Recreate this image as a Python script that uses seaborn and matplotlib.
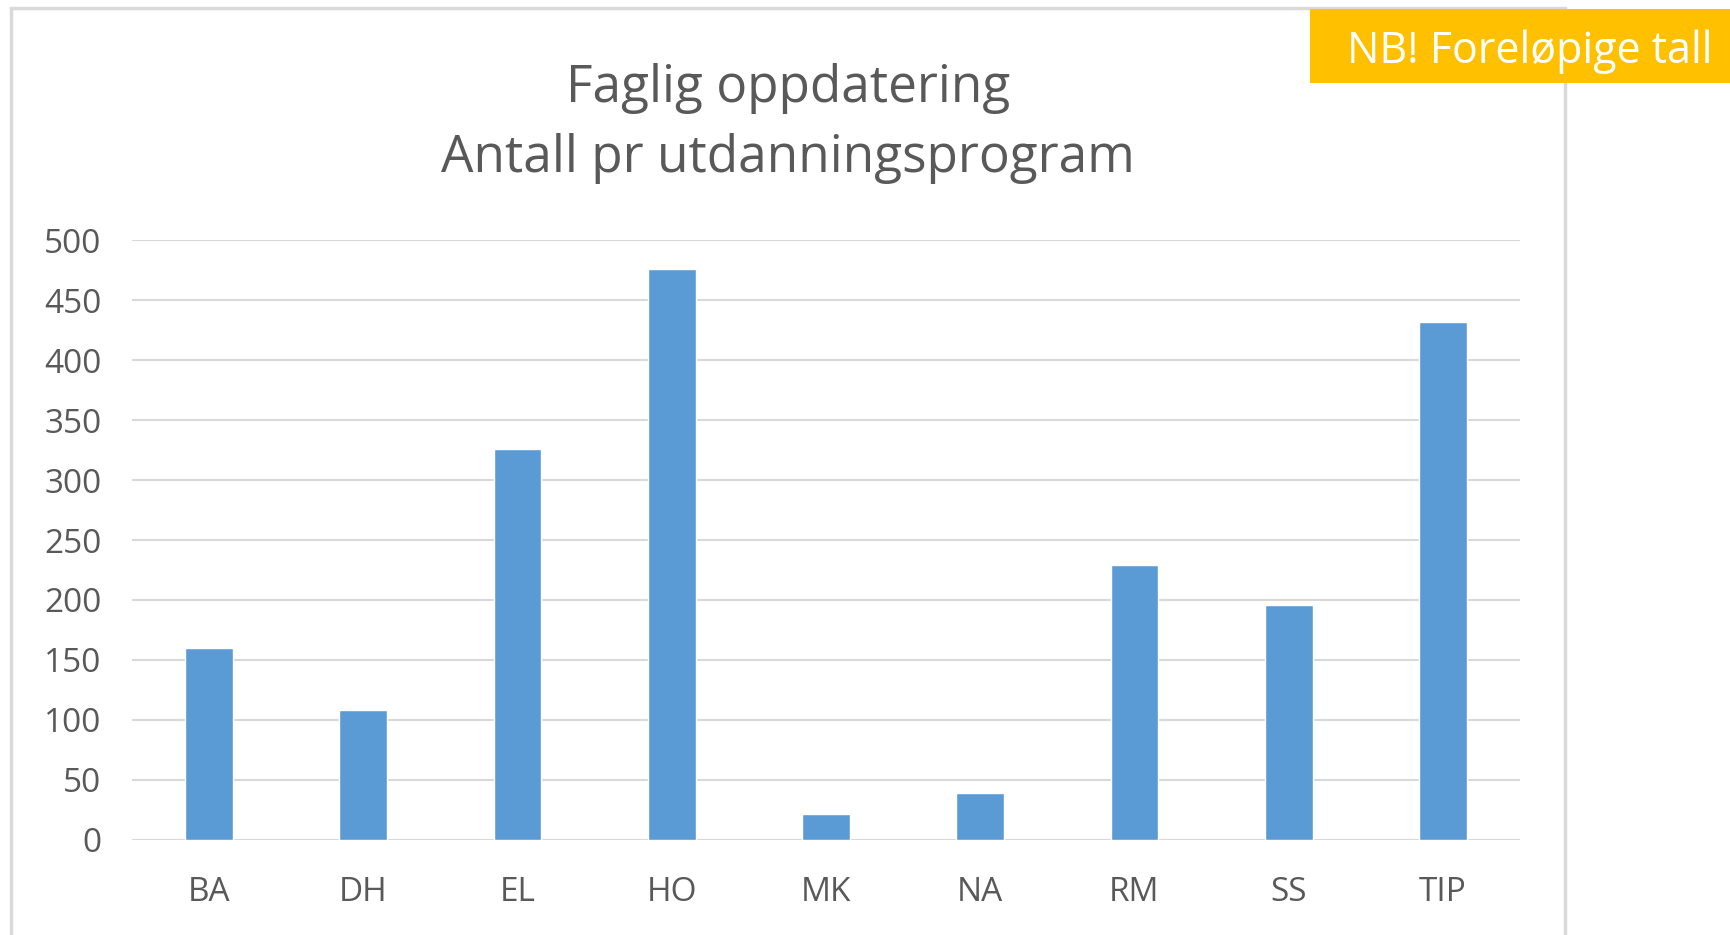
#!/usr/bin/env python3
"""
Bar chart: Faglig oppdatering - antall pr utdanningsprogram.
"""

import matplotlib
matplotlib.use('Agg')
import matplotlib.pyplot as plt
import matplotlib.patches as mpatches
import seaborn as sns
import pandas as pd

# Data
programs = ['BA', 'DH', 'EL', 'HO', 'MK', 'NA', 'RM', 'SS', 'TIP']
counts = [160, 108, 326, 476, 21, 39, 229, 196, 432]
y_ticks = [0, 50, 100, 150, 200, 250, 300, 350, 400, 450, 500]

title_text = 'Faglig oppdatering\nAntall pr utdanningsprogram'
badge_text = 'NB! Foreløpige tall'

def main():
    sns.set_style('white')
    plt.rcParams['font.family'] = ['Open Sans', 'DejaVu Sans']

    df = pd.DataFrame({'program': programs, 'count': counts})

    fig = plt.figure(figsize=(17.3, 9.35), dpi=100)
    fig.patch.set_facecolor('white')
    ax = fig.add_axes([0.0763, 0.102, 0.8023, 0.6408])

    sns.barplot(data=df, x='program', y='count', color='#5B9BD5',
                saturation=1, width=0.31, ax=ax, zorder=3)

    ax.set_ylim(0, 500)
    ax.set_xlim(-0.5, len(programs) - 0.5)
    ax.set_yticks(y_ticks)
    ax.set_xlabel('')
    ax.set_ylabel('')
    ax.grid(axis='y', color='#d9d9d9', linewidth=1.5, zorder=0)
    ax.set_axisbelow(True)
    for spine in ax.spines.values():
        spine.set_visible(False)
    ax.tick_params(axis='both', length=0, labelsize=24, colors='#595959')
    ax.tick_params(axis='y', pad=22)
    ax.tick_params(axis='x', pad=26)

    # Title
    fig.text(0.4555, 0.868, title_text, ha='center', va='center',
             fontsize=37, color='#595959', linespacing=1.5)

    # Chart frame
    frame = mpatches.Rectangle((11 / 1730, -0.1), (1565 - 11) / 1730, 1.1 - 8 / 935,
                               transform=fig.transFigure, fill=False,
                               edgecolor='#d9d9d9', linewidth=2.5, zorder=1)
    fig.patches.append(frame)

    # Orange badge
    badge = mpatches.Rectangle((1310 / 1730, 1 - 83 / 935), (1730 - 1310) / 1730, 74 / 935,
                               transform=fig.transFigure, facecolor='#FFC000',
                               edgecolor='none', zorder=5)
    fig.patches.append(badge)
    fig.text(1530 / 1730, 1 - 63 / 935, badge_text, ha='center', va='baseline',
             fontsize=31, color='white', zorder=6)

    fig.savefig('out.png', dpi=100, facecolor='white')

if __name__ == '__main__':
    main()
